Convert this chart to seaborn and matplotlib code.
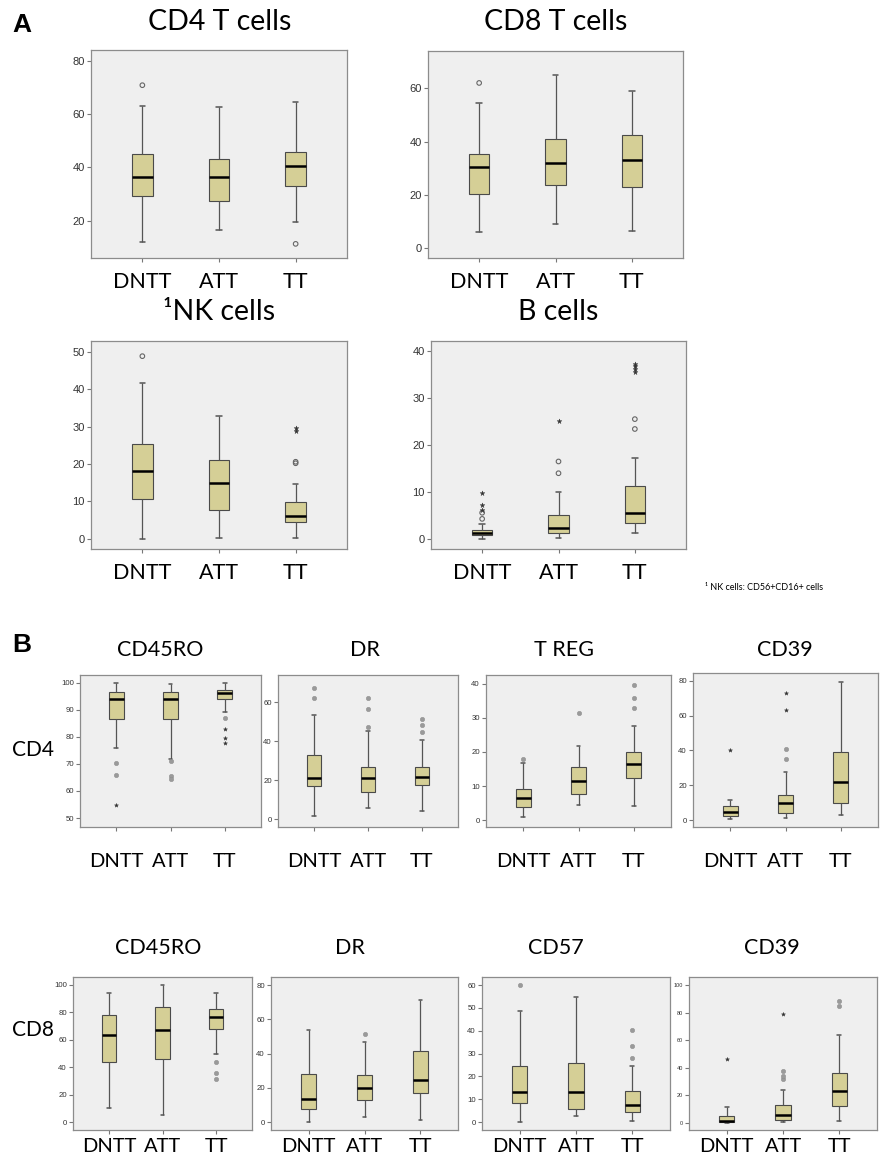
import numpy as np
import pandas as pd
import matplotlib
matplotlib.use("Agg")
import matplotlib.pyplot as plt
import seaborn as sns

groups = ["DNTT", "ATT", "TT"]

# per group: [lower whisker, Q1, median, Q3, upper whisker], then outliers (o) and extremes (*)
cd4t_box = [[12.0, 29.3, 36.4, 44.9, 62.9], [16.4, 27.3, 36.3, 43.3, 62.6], [19.4, 33.1, 40.6, 45.9, 64.5]]
cd4t_out = [[70.8], [], [11.3]]
cd4t_ext = [[], [], []]

cd8t_box = [[5.9, 20.4, 30.5, 35.3, 54.5], [9.0, 23.5, 32.0, 41.0, 65.1], [6.4, 22.9, 33.0, 42.4, 58.8]]
cd8t_out = [[62.0], [], []]
cd8t_ext = [[], [], []]

nk_box = [[0.0, 10.6, 18.2, 25.4, 41.5], [0.2, 7.8, 15.0, 21.2, 32.8], [0.3, 4.4, 6.2, 9.8, 14.6]]
nk_out = [[48.8], [], [20.2, 20.6]]
nk_ext = [[], [], [28.8, 29.5]]

bc_box = [[0.1, 0.8, 1.4, 1.9, 3.3], [0.2, 1.3, 2.3, 5.1, 10.0], [1.2, 3.5, 5.5, 11.2, 17.2]]
bc_out = [[4.3, 5.6], [14.0, 16.5], [23.4, 25.5]]
bc_ext = [[6.2, 7.2, 9.8], [25.2], [35.6, 36.1, 36.7, 37.2]]

# panel B, CD4 row
cd4_ro_box = [[75.9, 86.7, 93.8, 96.5, 100.0], [71.8, 86.6, 94.1, 96.6, 99.5], [89.0, 93.9, 96.3, 97.4, 100.0]]
cd4_ro_out = [[70.2, 65.9], [71.0, 65.4, 64.4], [87.0]]
cd4_ro_ext = [[54.9], [], [83.0, 79.5, 77.6]]

cd4_dr_box = [[1.7, 17.0, 21.4, 33.1, 53.7], [5.7, 14.2, 20.9, 26.9, 45.4], [4.1, 17.5, 21.6, 26.9, 40.6]]
cd4_dr_out = [[62.0, 67.5], [47.5, 56.6, 62.0], [44.9, 48.2, 51.3]]
cd4_dr_ext = [[], [], []]

cd4_treg_box = [[0.9, 3.8, 6.4, 9.2, 16.7], [4.4, 7.6, 11.5, 15.7, 21.7], [4.1, 12.4, 16.5, 19.9, 27.6]]
cd4_treg_out = [[17.8], [31.3], [32.9, 35.9, 39.6]]
cd4_treg_ext = [[], [], []]

cd4_39_box = [[0.8, 2.5, 4.6, 7.9, 11.8], [1.5, 3.9, 9.9, 14.3, 27.5], [2.9, 10.1, 22.1, 38.9, 79.4]]
cd4_39_out = [[], [35.0, 41.1], []]
cd4_39_ext = [[40.3], [63.2, 72.8], []]

# panel B, CD8 row
cd8_ro_box = [[10.0, 43.7, 63.8, 78.2, 93.9], [5.3, 45.9, 67.5, 83.7, 100.0], [49.3, 67.7, 76.7, 82.5, 93.9]]
cd8_ro_out = [[], [], [31.3, 35.7, 43.9]]
cd8_ro_ext = [[], [], []]

cd8_dr_box = [[0.0, 8.0, 13.6, 28.2, 53.9], [2.9, 13.2, 20.0, 27.4, 46.9], [1.4, 17.3, 24.9, 41.4, 71.0]]
cd8_dr_out = [[], [51.2], []]
cd8_dr_ext = [[], [], []]

cd8_57_box = [[0.0, 8.2, 13.3, 24.7, 48.6], [2.8, 6.0, 13.3, 26.1, 54.9], [0.4, 4.4, 7.7, 13.6, 24.4]]
cd8_57_out = [[60.0], [], [28.3, 33.3, 40.4]]
cd8_57_ext = [[], [], []]

cd8_39_box = [[0.0, 0.5, 1.0, 5.1, 11.5], [0.5, 1.7, 5.6, 12.7, 23.8], [1.0, 12.2, 22.9, 35.8, 64.0]]
cd8_39_out = [[], [31.6, 33.6, 37.2], [84.7, 88.6]]
cd8_39_ext = [[46.0], [79.3], []]

W, H = 880, 1161
BOX = "#d5cf96"
BG = "#efefef"


def sample(box, out, ext):
    # rebuild a set of values whose quartiles / whiskers / fliers are the ones
    lo, q1, med, q3, hi = box
    fl = sorted(out + ext)
    low = [v for v in fl if v < q1]
    high = [v for v in fl if v > q3]
    k = max(len(low), len(high)) + 1
    vals = low + [lo] + [q1] * (k - 1 - len(low))
    vals += [q1] + [med] * (k - 1)
    vals += [med] + [med] * (k - 1)
    vals += [q3] + [q3] * (k - 1 - len(high)) + [hi] + high
    return vals


def long_df(lists):
    rows = []
    for g, vals in zip(groups, lists):
        rows += [(g, v) for v in vals]
    return pd.DataFrame(rows, columns=["group", "value"])


def rect(px):
    l, t, r, b = px
    return [l / W, 1 - b / H, (r - l) / W, (b - t) / H]


def draw(ax, box, out, ext, ylim, big):
    df = long_df([sample(b, o, e) for b, o, e in zip(box, out, ext)])
    sns.boxplot(data=df, x="group", y="value", order=groups, ax=ax, color=BOX,
                saturation=1, width=0.27, linewidth=0.8, linecolor="#4a4a4a",
                showfliers=False, capwidths=0.07,
                medianprops=dict(color="black", linewidth=1.8),
                whiskerprops=dict(color="#555555", linewidth=0.9),
                capprops=dict(color="#555555", linewidth=1.1))
    fo = long_df(out)
    if len(fo):
        if big:
            sns.stripplot(data=fo, x="group", y="value", order=groups, ax=ax, jitter=False,
                          marker="o", size=3.3, color="#666666", facecolor="none",
                          edgecolor="#666666", linewidth=0.8, zorder=4)
        else:
            sns.stripplot(data=fo, x="group", y="value", order=groups, ax=ax, jitter=False,
                          marker="o", size=3.2, color="#9a9a9a", edgecolor="#8a8a8a",
                          linewidth=0.3, zorder=4)
    fe = long_df(ext)
    if len(fe):
        sns.stripplot(data=fe, x="group", y="value", order=groups, ax=ax, jitter=False,
                      marker="*", size=3.6 if big else 3.0, color="#333333",
                      edgecolor="#333333", linewidth=0.3, zorder=4)
    ax.set_xlim(-0.67, 2.67)
    ax.set_ylim(*ylim)
    ax.set_xlabel("")
    ax.set_ylabel("")
    ax.set_facecolor(BG)
    for s in ax.spines.values():
        s.set_visible(True)
        s.set_color("#8c8c8c")
        s.set_linewidth(0.9)


sns.set_theme(style="ticks")
plt.rcParams["font.family"] = ["Lato", "DejaVu Sans"]
plt.rcParams["text.color"] = "black"

fig = plt.figure(figsize=(W / 100, H / 100), dpi=100)
fig.patch.set_facecolor("white")

# title, data, axes box (px: left, top, right, bottom), ylim, yticks, title x/y, label pad, tick font, panel A?
panels = [
    ("CD4 T cells", cd4t_box, cd4t_out, cd4t_ext, [91, 50, 347, 258], (6, 84), [20, 40, 60, 80], (220, 22), 7, 8.0, True),
    ("CD8 T cells", cd8t_box, cd8t_out, cd8t_ext, [428, 51, 683, 258], (-3.75, 74), [0, 20, 40, 60], (556, 22), 7, 8.0, True),
    ("\u00b9NK cells", nk_box, nk_out, nk_ext, [91, 341, 347, 549], (-2.7, 52.85), [0, 10, 20, 30, 40, 50], (219, 312), 7, 8.0, True),
    ("B cells", bc_box, bc_out, bc_ext, [431, 341, 686, 549], (-2.1, 42.1), [0, 10, 20, 30, 40], (558, 312), 7, 8.0, True),
    ("CD45RO", cd4_ro_box, cd4_ro_out, cd4_ro_ext, [80, 675, 261, 827], (46.7, 102.8), [50, 60, 70, 80, 90, 100], (160, 650), 16, 5.6, False),
    ("DR", cd4_dr_box, cd4_dr_out, cd4_dr_ext, [278, 675, 458, 827], (-4, 74), [0, 20, 40, 60], (365, 650), 16, 5.6, False),
    ("T REG", cd4_treg_box, cd4_treg_out, cd4_treg_ext, [486, 675, 671, 827], (-2, 42.5), [0, 10, 20, 30, 40], (564, 650), 16, 5.6, False),
    ("CD39", cd4_39_box, cd4_39_out, cd4_39_ext, [693, 673, 878, 827], (-3.9, 84.4), [0, 20, 40, 60, 80], (785, 650), 16, 5.6, False),
    ("CD45RO", cd8_ro_box, cd8_ro_out, cd8_ro_ext, [73, 977, 252, 1130], (-5.8, 105.8), [0, 20, 40, 60, 80, 100], (158, 948), 3, 5.6, False),
    ("DR", cd8_dr_box, cd8_dr_out, cd8_dr_ext, [271, 977, 458, 1130], (-4.5, 84.7), [0, 20, 40, 60, 80], (350, 948), 3, 5.6, False),
    ("CD57", cd8_57_box, cd8_57_out, cd8_57_ext, [482, 977, 670, 1130], (-3.4, 63.5), [0, 10, 20, 30, 40, 50, 60], (556, 948), 3, 5.6, False),
    ("CD39", cd8_39_box, cd8_39_out, cd8_39_ext, [689, 977, 877, 1130], (-5.4, 106), [0, 20, 40, 60, 80, 100], (772, 948), 3, 4.0, False),
]

for title, box, out, ext, px, ylim, yticks, tpos, pad, tfs, big in panels:
    ax = fig.add_axes(rect(px))
    draw(ax, box, out, ext, ylim, big)
    ax.set_yticks(yticks)
    ax.set_yticklabels([str(t) for t in yticks], fontfamily="Liberation Sans", fontsize=tfs, color="#333333")
    ax.set_xticks(range(3))
    ax.set_xticklabels(groups, fontsize=15.5 if big else 14.5, color="black")
    ax.tick_params(axis="x", length=3, width=0.8, color="#777777", pad=pad)
    ax.tick_params(axis="y", length=3, width=0.8, color="#777777", pad=1.5)
    fig.text(tpos[0] / W, 1 - tpos[1] / H, title, ha="center", va="center",
             fontsize=20.5 if big else 15.5, color="black")

fig.text(12 / W, 1 - 25 / H, "A", fontsize=19, fontweight="bold", family="Liberation Sans", va="center")
fig.text(12 / W, 1 - 645 / H, "B", fontsize=19, fontweight="bold", family="Liberation Sans", va="center")
fig.text(12 / W, 1 - 750 / H, "CD4", fontsize=15, va="center")
fig.text(12 / W, 1 - 1030 / H, "CD8", fontsize=15, va="center")
fig.text(705 / W, 1 - 587 / H, "\u00b9 NK cells: CD56+CD16+ cells", fontsize=6.5, va="center")

fig.savefig("out.png", dpi=100, facecolor="white")
